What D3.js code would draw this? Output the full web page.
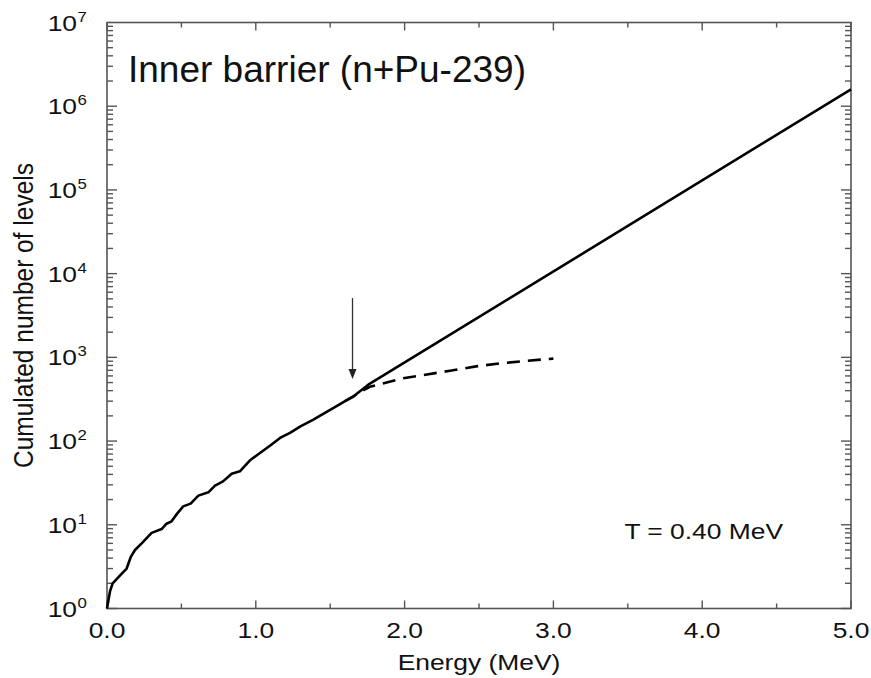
<!DOCTYPE html>
<html>
<head>
<meta charset="utf-8">
<script src="https://cdn.jsdelivr.net/npm/d3@7"></script>
<style>
  html, body { margin: 0; padding: 0; background: #fff; }
  svg text { font-family: "Liberation Sans", Arial, Helvetica, sans-serif; fill: #111; }
</style>
</head>
<body>
<svg id="chart" width="871" height="678"></svg>
<script>
// ---- data ----
const solidEnergy = [0.00, 0.02, 0.038, 0.09, 0.132, 0.159, 0.188, 0.233, 0.30, 0.367, 0.40, 0.434, 0.47, 0.512, 0.562, 0.614, 0.681, 0.726, 0.78, 0.838, 0.893, 0.961, 1.028, 1.095, 1.163, 1.23, 1.30, 1.387, 1.45, 1.52, 1.60, 1.655, 1.756, 5.0];
const solidLevels = [1.0, 1.6, 2.0, 2.5, 3.0, 4.1, 5.0, 6.0, 8.0, 8.9, 10.3, 11.0, 13.5, 16.6, 17.9, 22.3, 24.4, 29.4, 33, 40.8, 43.5, 59, 72, 88, 109, 125, 150, 180, 210, 248, 300, 341, 471, 1.59e6];
const dashedEnergy = [1.60, 1.655, 1.70, 1.767, 1.99, 2.14, 2.305, 2.48, 2.64, 2.80, 2.96, 3.0];
const dashedLevels = [300, 340, 385, 445, 564, 620, 692, 780, 846, 902, 955, 965];
const xTickValues = [0, 1, 2, 3, 4, 5];
const xTickLabels = ["0.0", "1.0", "2.0", "3.0", "4.0", "5.0"];
const yDecades = [0, 1, 2, 3, 4, 5, 6, 7];
const arrowEnergy = 1.65;
const arrowLevels = [5100, 550];
const titleText = "Inner barrier (n+Pu-239)";
const tempText = "T = 0.40 MeV";
const xLabel = "Energy (MeV)";
const yLabel = "Cumulated number of levels";

// ---- layout ----
const L = 107, R = 851, T = 22.5, B = 608.5;
const svg = d3.select("#chart");
const x = d3.scaleLinear().domain([0, 5]).range([L, R]);
const y = d3.scaleLog().domain([1, 1e7]).range([B, T]);
const axisColor = "#555";
const SX = 1.2; // horizontal stretch of the original rendering

// frame
svg.append("rect").attr("x", L).attr("y", T).attr("width", R - L).attr("height", B - T)
  .attr("fill", "none").attr("stroke", axisColor).attr("stroke-width", 1.6);

// x ticks (bottom and top, inward)
const xMinor = d3.range(0, 5.01, 0.5);
const tickG = svg.append("g").attr("stroke", axisColor).attr("stroke-width", 1.4);
xMinor.forEach(v => {
  const major = Math.abs(v - Math.round(v)) < 1e-9;
  const len = major ? 8 : 5;
  tickG.append("line").attr("x1", x(v)).attr("x2", x(v)).attr("y1", B).attr("y2", B - len);
  tickG.append("line").attr("x1", x(v)).attr("x2", x(v)).attr("y1", T).attr("y2", T + len);
});
// y ticks (left and right, inward)
for (let d = 0; d < 7; d++) {
  for (let m = 1; m <= 9; m++) {
    const v = m * Math.pow(10, d);
    const len = m === 1 ? 10 : 6;
    tickG.append("line").attr("x1", L).attr("x2", L + len).attr("y1", y(v)).attr("y2", y(v));
    tickG.append("line").attr("x1", R).attr("x2", R - len).attr("y1", y(v)).attr("y2", y(v));
  }
}

// x tick labels
xTickValues.forEach((v, i) => {
  svg.append("text")
    .attr("transform", `translate(${x(v)},638) scale(${SX},1)`)
    .attr("text-anchor", "middle").attr("font-size", 22)
    .text(xTickLabels[i]);
});
// y tick labels 10^n
yDecades.forEach(d => {
  const g = svg.append("g").attr("transform", `translate(77,${y(Math.pow(10, d)) + 8}) scale(${SX},1)`);
  g.append("text").attr("text-anchor", "end").attr("font-size", 22).text("10");
  g.append("text").attr("x", 0.5).attr("y", -9).attr("font-size", 14).text(String(d));
});

// axis titles
svg.append("text")
  .attr("transform", `translate(${(L + R) / 2},670) scale(${SX},1)`)
  .attr("text-anchor", "middle").attr("font-size", 22).text(xLabel);
svg.append("text")
  .attr("transform", `translate(33,${(T + B) / 2}) scale(1.15,1) rotate(-90)`)
  .attr("text-anchor", "middle").attr("font-size", 24.5).text(yLabel);

// curves
const line = d3.line().x(d => x(d[0])).y(d => y(d[1])).curve(d3.curveLinear);
svg.append("path").datum(solidEnergy.map((e, i) => [e, solidLevels[i]]))
  .attr("d", line).attr("fill", "none").attr("stroke", "#000").attr("stroke-width", 2.6)
  .attr("stroke-linejoin", "round");
svg.append("path").datum(dashedEnergy.map((e, i) => [e, dashedLevels[i]]))
  .attr("d", line).attr("fill", "none").attr("stroke", "#000").attr("stroke-width", 2.6)
  .attr("stroke-dasharray", "13,8");

// arrow
const ax = x(arrowEnergy), ay1 = y(arrowLevels[0]), ay2 = y(arrowLevels[1]);
svg.append("line").attr("x1", ax).attr("x2", ax).attr("y1", ay1).attr("y2", ay2 - 8)
  .attr("stroke", "#333").attr("stroke-width", 1.3);
svg.append("path").attr("d", `M${ax - 4},${ay2 - 10} L${ax + 4},${ay2 - 10} L${ax},${ay2} Z`).attr("fill", "#222");

// annotations
svg.append("text").attr("x", 128).attr("y", 82).attr("font-size", 37).text(titleText);
svg.append("text")
  .attr("transform", `translate(783,539) scale(${SX},1)`)
  .attr("text-anchor", "end").attr("font-size", 22).text(tempText);
</script>
</body>
</html>
